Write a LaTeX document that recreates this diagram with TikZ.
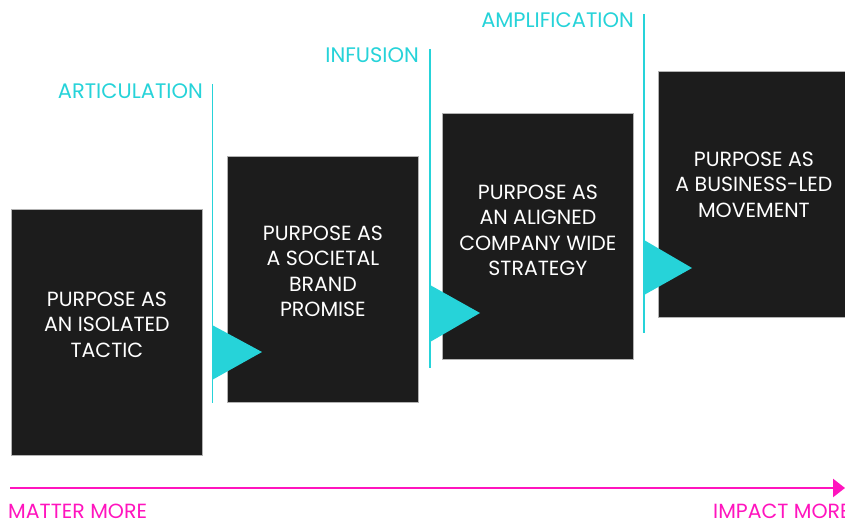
\documentclass[tikz,border=0pt]{standalone}
\usepackage{fontspec}
\setmainfont{Poppins}
\usepackage{xcolor}
\usetikzlibrary{arrows.meta, positioning, calc}

\definecolor{panel}{HTML}{1C1C1C}
\definecolor{teal}{HTML}{26D3D9}
\definecolor{pink}{HTML}{FF14BE}

\begin{document}
\begin{tikzpicture}[x=1pt, y=1pt,
  phase/.style={draw=gray!60, line width=0.8pt, fill=panel, minimum width=191, minimum height=246, anchor=north west, inner sep=0},
  phasetext/.style={text=white, align=center, font=\fontsize{20.5}{25.5}\selectfont},
  stage/.style={text=teal, anchor=base east, inner sep=0, font=\fontsize{21}{22}\selectfont},
  divider/.style={draw=teal, line width=1.8pt},
  axislabel/.style={text=pink, anchor=base west, inner sep=0, font=\fontsize{20.5}{22}\selectfont}]
\clip (0,0) rectangle (845,524);
\fill[white] (0,0) rectangle (845,524);

% Stage dividers
\coordinate (l1top) at (212.5,440); \coordinate (l1bot) at (212.5,121);
\coordinate (l2top) at (430,475);   \coordinate (l2bot) at (430,156);
\coordinate (l3top) at (644,510);   \coordinate (l3bot) at (644,191);
\draw[divider] (l1top) -- (l1bot);
\draw[divider] (l2top) -- (l2bot);
\draw[divider] (l3top) -- (l3bot);

% Stage names
\node[stage] (articulation) at (203,425) {ARTICULATION};
\node[stage] (infusion) at (419,461) {INFUSION};
\node[stage] (amplification) at (634,496) {AMPLIFICATION};

% Purpose steps
\node[phase] (tactic) at (11,315) {};
\node[phase] (brand) at (227,368) {};
\node[phase] (strategy) at (442,411) {};
\node[phase] (movement) at (658,453) {};

\node[phasetext] (tactictxt) at ($(tactic.center)+(0,8)$) {PURPOSE AS\\AN ISOLATED\\TACTIC};
\node[phasetext] (brandtxt) at ($(brand.center)+(0,8)$) {PURPOSE AS\\A SOCIETAL\\BRAND\\PROMISE};
\node[phasetext] (strategytxt) at ($(strategy.center)+(0,6)$) {PURPOSE AS\\AN ALIGNED\\COMPANY WIDE\\STRATEGY};
\node[phasetext] (movementtxt) at ($(movement.center)+(0,10)$) {PURPOSE AS\\A BUSINESS-LED\\MOVEMENT};

% Step markers
\fill[teal] (212,199) -- (262,172) -- (212,144) -- cycle;
\fill[teal] (430,239) -- (480,211) -- (430,182) -- cycle;
\fill[teal] (644,284) -- (692,256) -- (644,229) -- cycle;

% Axis
\coordinate (mstart) at (10,36);
\coordinate (mend) at (845,36);
\draw[pink, line width=2.5pt, -{Triangle[length=12pt, width=18pt]}] (mstart) -- (mend);
\node[axislabel] (matter) at (8,5) {MATTER MORE};
\node[axislabel] (impact) at (713,5) {IMPACT MORE};
\end{tikzpicture}
\end{document}
